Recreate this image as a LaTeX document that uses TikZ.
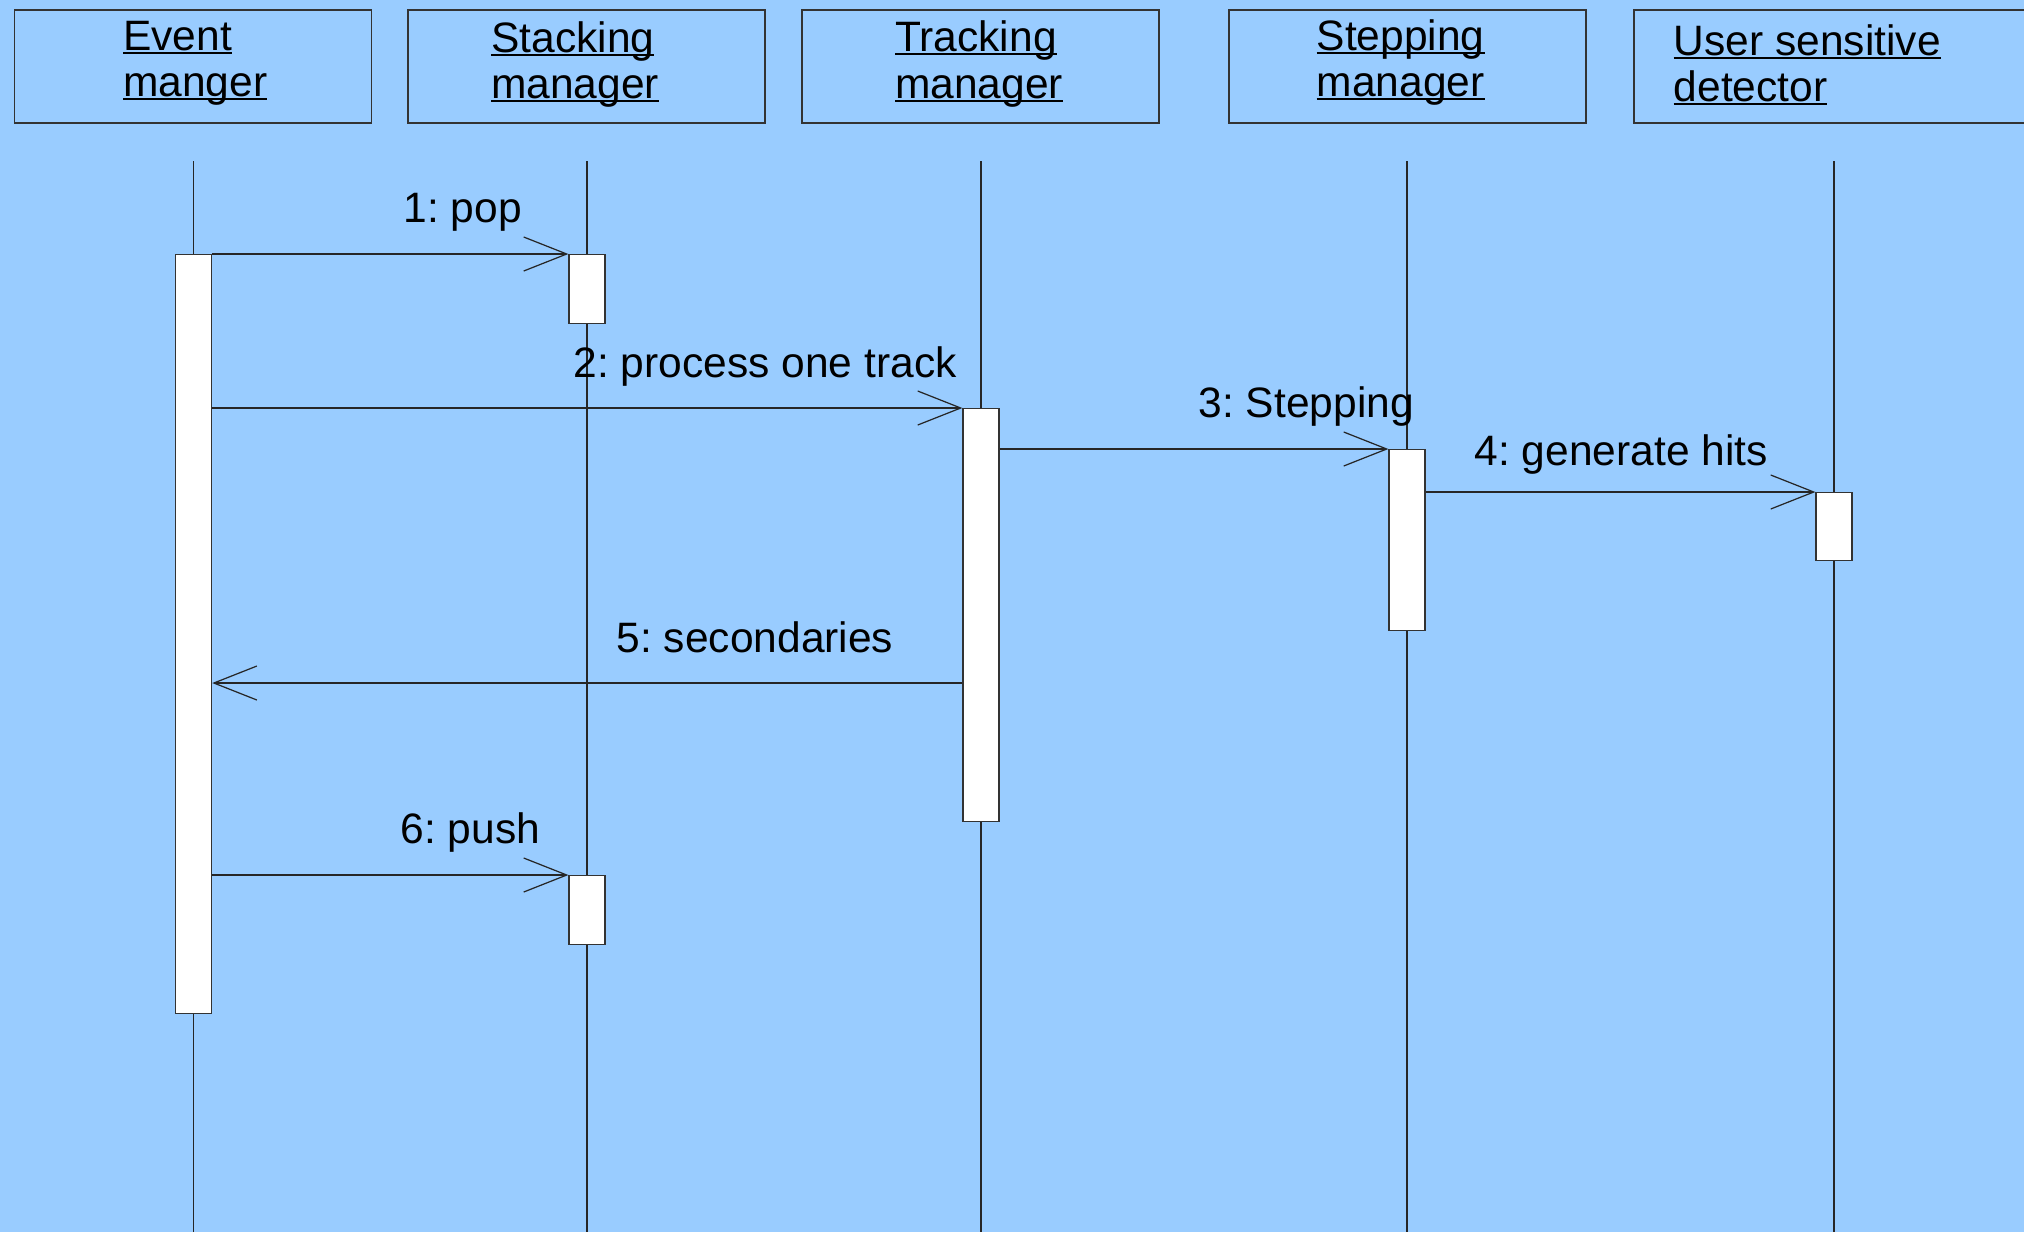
\documentclass[tikz,border=0pt]{standalone}
\usepackage{fontspec}
\setmainfont{Liberation Sans}
\frenchspacing
\usetikzlibrary{arrows.meta}

\definecolor{bgblue}{HTML}{99CCFF}
\definecolor{linegray}{HTML}{333333}

\newsavebox\ulbox
\newcommand{\uln}[1]{\sbox\ulbox{#1}\rlap{\rule[-0.085em]{\wd\ulbox}{0.047em}}\usebox\ulbox}

\tikzset{
	head/.style={draw=linegray, line width=0.45pt, minimum width=3.57cm, minimum height=1.13cm, inner sep=0},
	headtext/.style={align=left, anchor=base west, inner sep=0, font=\fontsize{12.1}{13.2}\selectfont},
	act/.style={draw=linegray, fill=white, line width=0.35pt, minimum width=0.36cm, anchor=north, inner sep=0},
	lifeline/.style={draw=black!85, line width=0.35pt},
	msg/.style={draw=black!85, line width=0.35pt, -{Straight Barb[length=0.43cm, width=0.34cm]}},
	msgtext/.style={anchor=base west, inner sep=0, font=\fontsize{12.1}{14}\selectfont}
}

\begin{document}
\begin{tikzpicture}
	\fill[bgblue] (0,0) rectangle (20.24,-12.32);
	\clip (0,0) rectangle (20.24,-12.32);

	\node[head] (evbox) at (1.93,-0.665) {};
	\node[head] (stbox) at (5.865,-0.665) {};
	\node[head] (trbox) at (9.805,-0.665) {};
	\node[head] (spbox) at (14.075,-0.665) {};
	\node[head, minimum width=4.2cm, anchor=west] (sdbox) at (16.33,-0.665) {};

	\node[headtext] (evname) at (1.225,-0.965) {\uln{Event}\\\uln{manger}};
	\node[headtext] (stname) at (4.905,-0.985) {\uln{Stacking}\\\uln{manager}};
	\node[headtext] (trname) at (8.945,-0.98) {\uln{Tracking}\\\uln{manager}};
	\node[headtext] (spname) at (13.16,-0.965) {\uln{Stepping}\\\uln{manager}};
	\node[headtext] (sdname) at (16.73,-1.015) {\uln{User sensitive}\\\uln{detector}};

	\draw[lifeline] (1.935,-1.61) -- (1.935,-12.32);
	\draw[lifeline] (5.87,-1.61) -- (5.87,-12.32);
	\draw[lifeline] (9.81,-1.61) -- (9.81,-12.32);
	\draw[lifeline] (14.07,-1.61) -- (14.07,-12.32);
	\draw[lifeline] (18.34,-1.61) -- (18.34,-12.32);

	\node[act, minimum height=7.59cm] (evact) at (1.936,-2.54) {};
	\node[act, minimum height=0.69cm] (stack1) at (5.87,-2.54) {};
	\node[act, minimum height=4.13cm] (trackact) at (9.81,-4.08) {};
	\node[act, minimum height=1.81cm] (stepact) at (14.07,-4.49) {};
	\node[act, minimum height=0.68cm] (sdact) at (18.34,-4.92) {};
	\node[act, minimum height=0.69cm] (stack2) at (5.87,-8.75) {};

	\coordinate (back) at (0,-6.83);

	\draw[msg] (evact.east |- stack1.north) -- (stack1.north west);
	\draw[msg] (evact.east |- trackact.north) -- (trackact.north west);
	\draw[msg] (trackact.east |- stepact.north) -- (stepact.north west);
	\draw[msg] (stepact.east |- sdact.north) -- (sdact.north west);
	\draw[msg] (trackact.west |- back) -- (evact.east |- back);
	\draw[msg] (evact.east |- stack2.north) -- (stack2.north west);

	\node[msgtext] (poplbl) at (4.03,-2.225) {1: pop};
	\node[msgtext] (proclbl) at (5.73,-3.775) {2: process one track};
	\node[msgtext] (steplbl) at (11.98,-4.17) {3: Stepping};
	\node[msgtext] (hitslbl) at (14.74,-4.65) {4: generate hits};
	\node[msgtext] (seclbl) at (6.16,-6.525) {5: secondaries};
	\node[msgtext] (pushlbl) at (4.00,-8.435) {6: push};
\end{tikzpicture}
\end{document}
